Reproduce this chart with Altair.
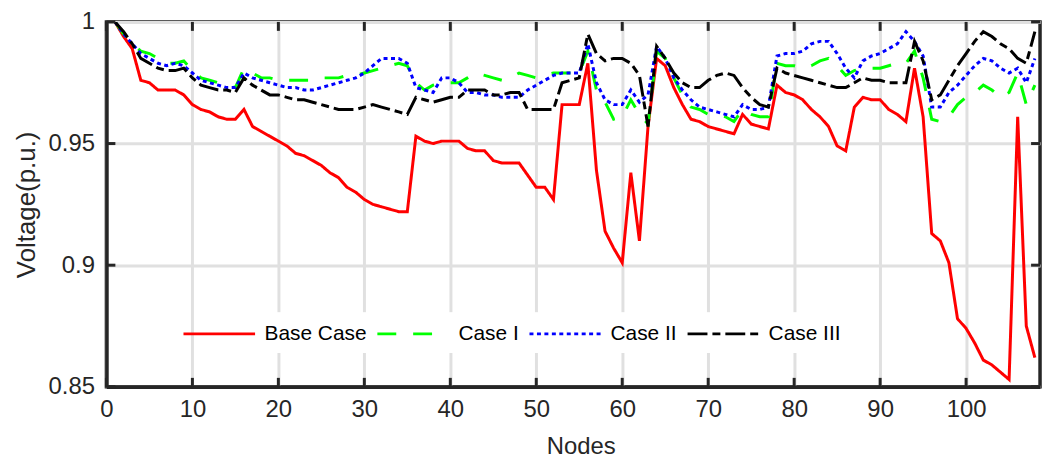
import altair as alt
import pandas as pd

nodes = list(range(1, 109))

base_case = [
    1.000, 0.994, 0.989, 0.976, 0.975, 0.972, 0.972, 0.972, 0.970, 0.966,
    0.964, 0.963, 0.961, 0.960, 0.960, 0.964, 0.957, 0.955, 0.953, 0.951,
    0.949, 0.946, 0.945, 0.943, 0.941, 0.938, 0.936, 0.932, 0.930, 0.927,
    0.925, 0.924, 0.923, 0.922, 0.922, 0.953, 0.951, 0.950, 0.951, 0.951,
    0.951, 0.948, 0.947, 0.947, 0.943, 0.942, 0.942, 0.942, 0.937, 0.932,
    0.932, 0.927, 0.966, 0.966, 0.966, 0.983, 0.939, 0.914, 0.907, 0.901,
    0.938, 0.910, 0.957, 0.985, 0.982, 0.973, 0.966, 0.960, 0.959, 0.957,
    0.956, 0.955, 0.954, 0.962, 0.958, 0.957, 0.956, 0.974, 0.971, 0.970,
    0.968, 0.964, 0.961, 0.957, 0.949, 0.947, 0.965, 0.969, 0.968, 0.968,
    0.964, 0.962, 0.959, 0.981, 0.961, 0.913, 0.910, 0.901, 0.878, 0.874,
    0.868, 0.861, 0.859, 0.856, 0.853, 0.961, 0.875, 0.862,
]

case_1 = [
    1.000, 0.995, 0.991, 0.988, 0.987, 0.985, 0.983, 0.983, 0.984, 0.980,
    0.977, 0.976, 0.975, 0.974, 0.973, 0.981, 0.979, 0.977, 0.977, 0.976,
    0.976, 0.976, 0.976, 0.976, 0.977, 0.977, 0.977, 0.978, 0.978, 0.979,
    0.980, 0.981, 0.982, 0.983, 0.982, 0.975, 0.972, 0.974, 0.975, 0.975,
    0.975, 0.977, 0.979, 0.978, 0.977, 0.976, 0.977, 0.979, 0.978, 0.977,
    0.978, 0.979, 0.979, 0.979, 0.979, 0.988, 0.972, 0.967, 0.960, 0.961,
    0.968, 0.962, 0.958, 0.988, 0.985, 0.977, 0.970, 0.965, 0.964, 0.962,
    0.962, 0.961, 0.959, 0.964, 0.962, 0.961, 0.961, 0.983, 0.982, 0.982,
    0.981, 0.982, 0.984, 0.985, 0.982, 0.978, 0.980, 0.981, 0.981, 0.981,
    0.982, 0.983, 0.983, 0.988, 0.977, 0.960, 0.959, 0.961, 0.966, 0.969,
    0.971, 0.974, 0.972, 0.969, 0.971, 0.979, 0.966, 0.974,
]

case_2 = [
    1.000, 0.995, 0.991, 0.987, 0.985, 0.983, 0.982, 0.983, 0.982, 0.979,
    0.976, 0.975, 0.974, 0.973, 0.973, 0.979, 0.977, 0.976, 0.975, 0.974,
    0.973, 0.973, 0.972, 0.972, 0.973, 0.974, 0.975, 0.976, 0.977, 0.979,
    0.982, 0.985, 0.985, 0.985, 0.983, 0.973, 0.972, 0.971, 0.977, 0.977,
    0.975, 0.971, 0.971, 0.970, 0.970, 0.969, 0.969, 0.969, 0.972, 0.974,
    0.976, 0.978, 0.979, 0.979, 0.979, 0.991, 0.975, 0.968, 0.966, 0.966,
    0.972, 0.967, 0.970, 0.990, 0.985, 0.977, 0.972, 0.968, 0.965, 0.964,
    0.963, 0.962, 0.961, 0.966, 0.964, 0.964, 0.965, 0.986, 0.987, 0.987,
    0.988, 0.991, 0.992, 0.992, 0.987, 0.981, 0.977, 0.984, 0.986, 0.987,
    0.989, 0.991, 0.996, 0.992, 0.986, 0.965, 0.965, 0.971, 0.974, 0.978,
    0.982, 0.985, 0.984, 0.981, 0.979, 0.981, 0.975, 0.985,
]

case_3 = [
    1.000, 0.996, 0.991, 0.985, 0.983, 0.981, 0.980, 0.980, 0.981, 0.977,
    0.974, 0.973, 0.972, 0.972, 0.971, 0.977, 0.974, 0.972, 0.970, 0.970,
    0.969, 0.968, 0.968, 0.967, 0.966, 0.965, 0.964, 0.964, 0.964, 0.965,
    0.966, 0.965, 0.964, 0.963, 0.962, 0.969, 0.968, 0.967, 0.968, 0.969,
    0.969, 0.972, 0.972, 0.972, 0.970, 0.970, 0.971, 0.971, 0.964, 0.964,
    0.964, 0.964, 0.975, 0.976, 0.977, 0.995, 0.987, 0.984, 0.985, 0.985,
    0.983, 0.978, 0.957, 0.990, 0.985, 0.979, 0.975, 0.973, 0.973, 0.976,
    0.978, 0.979, 0.978, 0.973, 0.969, 0.966, 0.965, 0.981, 0.979, 0.978,
    0.977, 0.976, 0.975, 0.974, 0.973, 0.973, 0.975, 0.977, 0.976, 0.976,
    0.975, 0.975, 0.975, 0.992, 0.984, 0.968, 0.970, 0.976, 0.982, 0.987,
    0.992, 0.996, 0.994, 0.991, 0.989, 0.985, 0.983, 0.996,
]

series_names = ["Base Case", "Case I", "Case II", "Case III"]
series_colors = ["#ff0000", "#00ff00", "#0000ff", "#000000"]
series_dashes = [[1, 0], [19, 17], [4, 3.5], [20, 5, 8, 5]]

x_ticks = [0, 10, 20, 30, 40, 50, 60, 70, 80, 90, 100]
y_ticks = [0.85, 0.9, 0.95, 1.0]

rows = []
for name, vals in zip(series_names, [base_case, case_1, case_2, case_3]):
    for n, v in zip(nodes, vals):
        rows.append({"node": n, "voltage": v, "series": name})
df = pd.DataFrame(rows)

W, H = 939, 367
FONT = "Liberation Sans"
INK = "#262626"

xscale = alt.Scale(domain=[0, 108.6], nice=False, zero=False)
yscale = alt.Scale(domain=[0.85, 1.0], nice=False, zero=False)
xaxis = alt.Axis(title="Nodes", values=x_ticks, format="d", titleX=477,
                 titleY=67, titleBaseline="alphabetic", titleFontSize=24)
yaxis = alt.Axis(title="Voltage(p.u.)", values=y_ticks, format="~g", titleFontSize=26)

legend = alt.Legend(
    orient="none", direction="horizontal", title=None,
    legendX=92, legendY=292,
    symbolType="M-3,0H3", symbolSize=576, symbolStrokeWidth=3,
    symbolFillColor="transparent",
    labelFontSize=21, labelFont=FONT, labelColor="#000000",
    labelOffset=32, columnPadding=4, padding=8,
    fillColor="#ffffff", strokeColor="#ffffff",
)

lines = alt.Chart(df).mark_line(strokeWidth=3, clip=True, strokeCap="butt").encode(
    x=alt.X("node:Q", scale=xscale, axis=xaxis),
    y=alt.Y("voltage:Q", scale=yscale, axis=yaxis),
    color=alt.Color("series:N",
                    scale=alt.Scale(domain=series_names, range=series_colors),
                    legend=legend),
    strokeDash=alt.StrokeDash("series:N",
                              scale=alt.Scale(domain=series_names, range=series_dashes),
                              legend=legend),
    order=alt.Order("node:Q"),
)

xt = pd.DataFrame({"node": x_ticks})
yt = pd.DataFrame({"voltage": y_ticks})

tick_style = dict(color=INK, strokeWidth=3)
xb = alt.Chart(xt).mark_rule(**tick_style).encode(
    x=alt.X("node:Q", scale=xscale, axis=xaxis), y=alt.value(H), y2=alt.value(H - 9))
xtop = alt.Chart(xt).mark_rule(**tick_style).encode(
    x=alt.X("node:Q", scale=xscale, axis=xaxis), y=alt.value(0), y2=alt.value(9))
yl = alt.Chart(yt).mark_rule(**tick_style).encode(
    y=alt.Y("voltage:Q", scale=yscale, axis=yaxis), x=alt.value(0), x2=alt.value(9))
yr = alt.Chart(yt).mark_rule(**tick_style).encode(
    y=alt.Y("voltage:Q", scale=yscale, axis=yaxis), x=alt.value(W), x2=alt.value(W - 9))

chart = alt.layer(lines, xb, xtop, yl, yr).properties(
    width=W, height=H,
    autosize=alt.AutoSizeParams(type="none"),
    padding={"left": 99, "top": 12.7, "right": 6, "bottom": 73},
    background="#ffffff",
).configure_view(
    stroke=INK, strokeWidth=3.5
).configure_axis(
    labelFont=FONT, titleFont=FONT, labelFontSize=24,
    labelColor=INK, titleColor=INK, titleFontWeight="normal",
    grid=True, gridColor="#e0e0e0", gridWidth=3,
    domainColor=INK, domainWidth=3.5, ticks=False,
    labelFlush=False, labelOverlap=False,
).configure_axisX(
    labelPadding=11,
).configure_axisY(
    labelPadding=12, titlePadding=9,
)

chart.save("out.html", embed_options={"renderer": "svg", "actions": False})
